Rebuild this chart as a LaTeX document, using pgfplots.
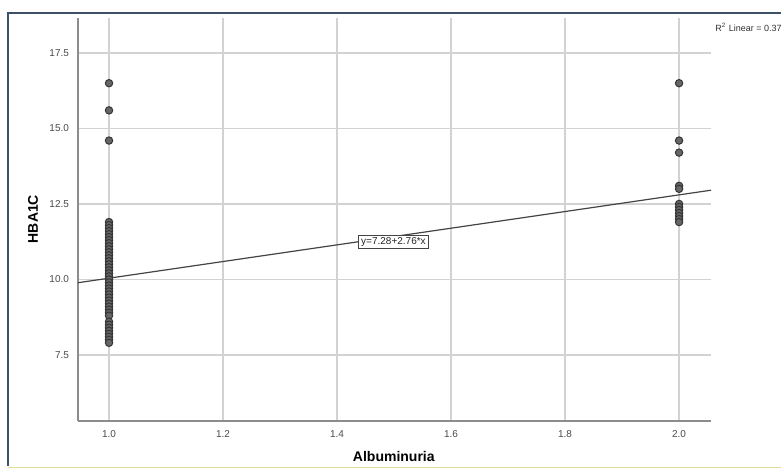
\documentclass[border=0pt]{standalone}
\usepackage{pgfplots}
\pgfplotsset{compat=1.18}
\usepackage{fontspec}
\setmainfont{Liberation Sans}
\definecolor{framec}{HTML}{3D5166}
\definecolor{gridc}{HTML}{D2D2D2}
\definecolor{spinec}{HTML}{8C8C8C}
\definecolor{tickc}{HTML}{4A4A4A}
\definecolor{markfill}{HTML}{666666}
\definecolor{markdraw}{HTML}{353535}
\definecolor{linec}{HTML}{444444}
\begin{document}
\begin{tikzpicture}[x=0.5pt,y=0.5pt]
\useasboundingbox (0,0) rectangle (781,474);
\fill[white] (0,0) rectangle (781,474);
\draw[framec, line width=0.9pt] (8,8) -- (8,461) -- (800,461);
\draw[gridc!70!yellow, line width=0.5pt] (8,6) -- (800,6);
\begin{axis}[
  at={(39pt,26.5pt)}, anchor=south west,
  scale only axis, width=316.5pt, height=201.5pt,
  xmin=0.9456, xmax=2.056, ymin=5.31, ymax=18.66,
  axis x line*=bottom, axis y line*=left,
  axis line style={spinec, line width=0.7pt, -},
  xtick={1,1.2,1.4,1.6,1.8,2.0},
  ytick={7.5,10,12.5,15,17.5},
  major tick length=0pt,
  grid=major,
  major grid style={gridc, line width=0.7pt},
  /pgf/number format/assume math mode=true,
  /pgf/number format/.cd, fixed, fixed zerofill, precision=1, /pgfplots/.cd,
  tick label style={font=\fontsize{5}{6}\selectfont, text=tickc},
  xticklabel style={yshift=-1.2pt},
  yticklabel style={xshift=-1.0pt},
  xlabel={\textbf{Albuminuria}},
  ylabel={\textbf{HBA1C}},
  label style={font=\fontsize{7}{8}\selectfont},
  xlabel style={at={(axis description cs:0.499,-0.089)}, anchor=center},
  ylabel style={at={(axis description cs:-0.0711,0.501)}, anchor=center, rotate=0},
  clip=false,
]
\addplot[only marks, mark=*, mark size=1.85pt,
  mark options={fill=markfill, draw=markdraw, line width=0.5pt}]
coordinates {
(1,16.5) (1,15.6) (1,14.6)
(1,11.9) (1,11.8) (1,11.7) (1,11.6) (1,11.5) (1,11.4) (1,11.3) (1,11.2) (1,11.1) (1,11.0)
(1,10.9) (1,10.8) (1,10.7) (1,10.6) (1,10.5) (1,10.4) (1,10.3) (1,10.2) (1,10.1) (1,10.0)
(1,9.9) (1,9.8) (1,9.7) (1,9.6) (1,9.5) (1,9.4) (1,9.3) (1,9.2) (1,9.1) (1,9.0)
(1,8.9) (1,8.8) (1,8.6) (1,8.5) (1,8.4) (1,8.3) (1,8.2) (1,8.1) (1,8.0) (1,7.9)
(2,16.5) (2,14.6) (2,14.2) (2,13.1) (2,13.0)
(2,12.5) (2,12.4) (2,12.3) (2,12.2) (2,12.1) (2,12.0) (2,11.9)
};
\addplot[linec, line width=0.6pt] coordinates {(0.9456,9.89) (2.056,12.955)};
\node[draw=linec, fill=white, line width=0.5pt, inner sep=1.2pt,
  font=\fontsize{5}{6}\selectfont, text=black!85]
  at (axis cs:1.499,11.24) {y=7.28+2.76*x};
\end{axis}
\node[anchor=west, inner sep=0pt, font=\fontsize{4.5}{5.5}\selectfont, text=black!80]
  at (715,447) {R\textsuperscript{2} Linear = 0.37};
\end{tikzpicture}
\end{document}
